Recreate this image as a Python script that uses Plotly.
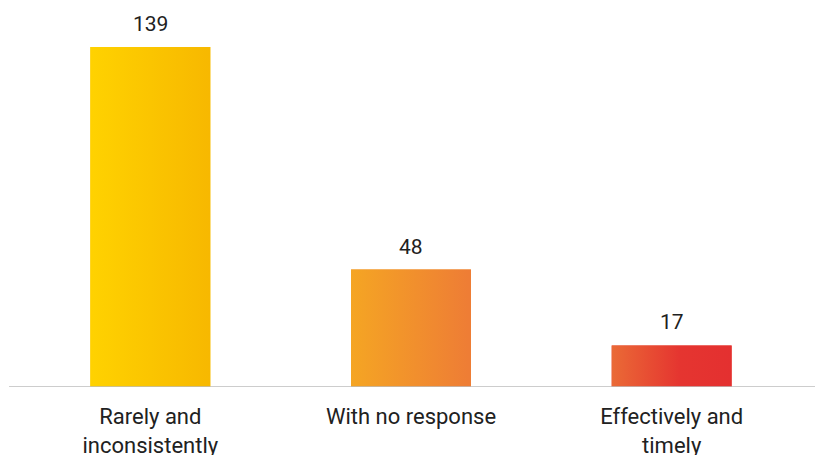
import plotly.graph_objects as go

categories = ["Rarely and<br>inconsistently", "With no response", "Effectively and<br>timely"]
values = [139, 48, 17]
solid_colors = ["#FBC400", "#F19130", "#E74533"]

BAR_W = 0.46
xs = list(range(len(categories)))

fig = go.Figure()
fig.add_trace(go.Bar(x=xs, y=values, width=BAR_W, marker=dict(color=solid_colors, line=dict(width=0)),
                     hoverinfo="skip", showlegend=False))

# gradient overlay built from the same data
px, py = [], []
for x, v in zip(xs, values):
    h = BAR_W / 2
    px += [x - h, x + h, x + h, x - h, x - h, None]
    py += [0, 0, v, v, 0, None]
fig.add_trace(go.Scatter(
    x=px, y=py, mode="lines", fill="toself", line=dict(width=0),
    fillgradient=dict(type="horizontal", start=-0.232, stop=2.23,
                      colorscale=[[0, "#FFD200"], [0.188, "#F7B800"], [0.403, "#F5A623"],
                                  [0.59, "#EE7D35"], [0.813, "#EA6A36"], [0.919, "#E53530"],
                                  [1, "#E43030"]]),
    hoverinfo="skip", showlegend=False))

for x, v in zip(xs, values):
    fig.add_annotation(x=x, y=v, text=str(v), showarrow=False, yanchor="bottom", yshift=9,
                       font=dict(size=21, color="#212121", family="Roboto"))

fig.add_shape(type="line", xref="paper", yref="y", x0=-0.014, x1=1.02, y0=0, y1=0,
              line=dict(color="#BDBDBD", width=1.5))

fig.update_layout(
    width=815, height=455,
    margin=dict(l=20, r=13, t=20, b=68),
    paper_bgcolor="white", plot_bgcolor="white",
    font=dict(family="Roboto", size=22, color="#212121"),
    showlegend=False,
    xaxis=dict(range=[-0.5, 2.5], tickvals=xs, ticktext=categories, showgrid=False,
               zeroline=False, showline=False, ticks="", ticklabelstandoff=14,
               automargin=False, tickfont=dict(size=22, color="#212121")),
    yaxis=dict(range=[0, 150.04], visible=False, showgrid=False, zeroline=False,
               automargin=False),
)

fig.write_html("out.html")
